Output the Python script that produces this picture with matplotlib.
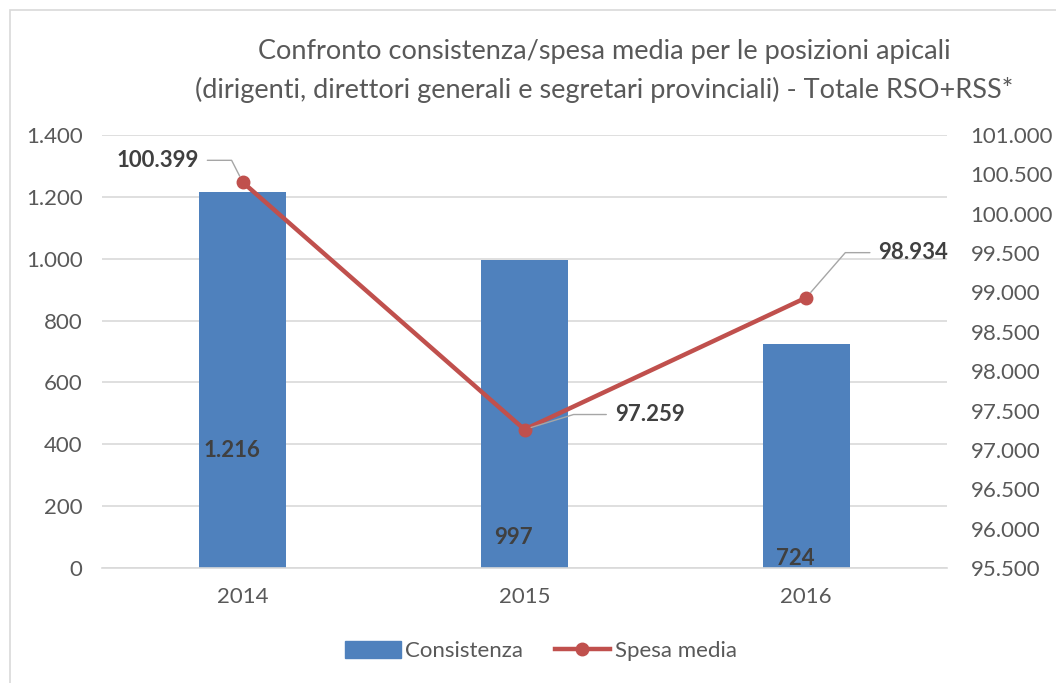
import numpy as np
import matplotlib.pyplot as plt
from matplotlib.patches import Rectangle, Patch
from matplotlib.lines import Line2D

# dati del grafico
anni = ['2014', '2015', '2016']
consistenza = [1216, 997, 724]
spesa_media = [100399, 97259, 98934]
etichette_consistenza = ['1.216', '997', '724']
etichette_spesa = ['100.399', '97.259', '98.934']

tick_sx = [0, 200, 400, 600, 800, 1000, 1200, 1400]
tick_dx = [95500, 96000, 96500, 97000, 97500, 98000, 98500, 99000, 99500, 100000, 100500, 101000]

def fmt(v):
    return '{:,}'.format(v).replace(',', '.')

plt.rcParams['font.family'] = ['Lato', 'DejaVu Sans']
BLU = '#4F81BD'
ROSSO = '#C0504D'
GRIGIO = '#595959'
FS = 16

fig = plt.figure(figsize=(10.56, 6.83), dpi=100)
ax = fig.add_axes([102/1056, 1-568/683, (947-102)/1056, (568-135)/683])
ax2 = ax.twinx()

x = np.arange(len(anni))
ax.bar(x, consistenza, width=0.31, color=BLU, zorder=2)
ax.set_xlim(-0.5, 2.5)
ax.set_ylim(0, 1400)
ax.set_yticks(tick_sx)
ax.set_yticklabels([fmt(v) for v in tick_sx])
ax.set_xticks(x)
ax.set_xticklabels(anni)
ax.grid(axis='y', color='#D9D9D9', linewidth=1.2, zorder=0)
ax.set_axisbelow(True)
for s in ['top', 'right', 'left']:
    ax.spines[s].set_visible(False)
ax.spines['bottom'].set_color('#D9D9D9')
ax.spines['bottom'].set_linewidth(1.2)
ax.tick_params(axis='both', length=0, labelsize=FS, colors=GRIGIO, pad=14)
ax.tick_params(axis='x', pad=14)

ax2.plot(x, spesa_media, color=ROSSO, linewidth=3.2, marker='o', markersize=9,
         zorder=3, solid_capstyle='round')
ax2.set_ylim(95500, 101000)
ax2.set_yticks(tick_dx)
ax2.set_yticklabels([fmt(v) for v in tick_dx])
for s in ax2.spines.values():
    s.set_visible(False)
ax2.tick_params(axis='y', length=0, labelsize=FS, colors=GRIGIO, pad=17)

# etichette barre (posizione come nel grafico Excel)
pos_y_barre = [380, 97, 32]
for i, t in enumerate(etichette_consistenza):
    ax.text(x[i] - 0.04, pos_y_barre[i], t, ha='center', va='center',
            fontsize=FS, fontweight='bold', color='#404040', zorder=4)

# etichette linea con linee guida
offset_etichette = [(-85, 22), (125, 15), (107, 45)]
angoli_guida = [117, 17, 49]
for i, t in enumerate(etichette_spesa):
    dx, dy = offset_etichette[i]
    ax2.annotate(t, xy=(x[i], spesa_media[i]), xytext=(dx, dy),
                 textcoords='offset pixels', ha='center', va='center',
                 fontsize=FS, fontweight='bold', color='#404040',
                 arrowprops=dict(arrowstyle='-', color='#A6A6A6', lw=1,
                                 shrinkA=4, shrinkB=5,
                                 connectionstyle='angle,angleA=0,angleB=%d,rad=0' % angoli_guida[i]),
                 zorder=5)

fig.text(604/1056, 1-52/683, 'Confronto consistenza/spesa media per le posizioni apicali',
         ha='center', va='center', fontsize=19.5, color=GRIGIO)
fig.text(604/1056, 1-90/683, '(dirigenti, direttori generali e segretari provinciali) - Totale RSO+RSS*',
         ha='center', va='center', fontsize=19.5, color=GRIGIO)

# legenda
maniglie = [Patch(color=BLU, label='Consistenza'),
            Line2D([], [], color=ROSSO, lw=3.2, marker='o', markersize=9, label='Spesa media')]
fig.legend(handles=maniglie, loc='center', bbox_to_anchor=(541/1056, 1-651/683), ncol=2,
           frameon=False, fontsize=FS, labelcolor=GRIGIO, handlelength=2.5,
           handletextpad=0.2, columnspacing=1.4, handleheight=0.8)

fig.patches.append(Rectangle((10/1056, -0.05), 1.2, 1-10/683+0.05, transform=fig.transFigure,
                             fill=False, edgecolor='#D9D9D9', linewidth=1.2))

fig.savefig('out.png', dpi=100, facecolor='white')
